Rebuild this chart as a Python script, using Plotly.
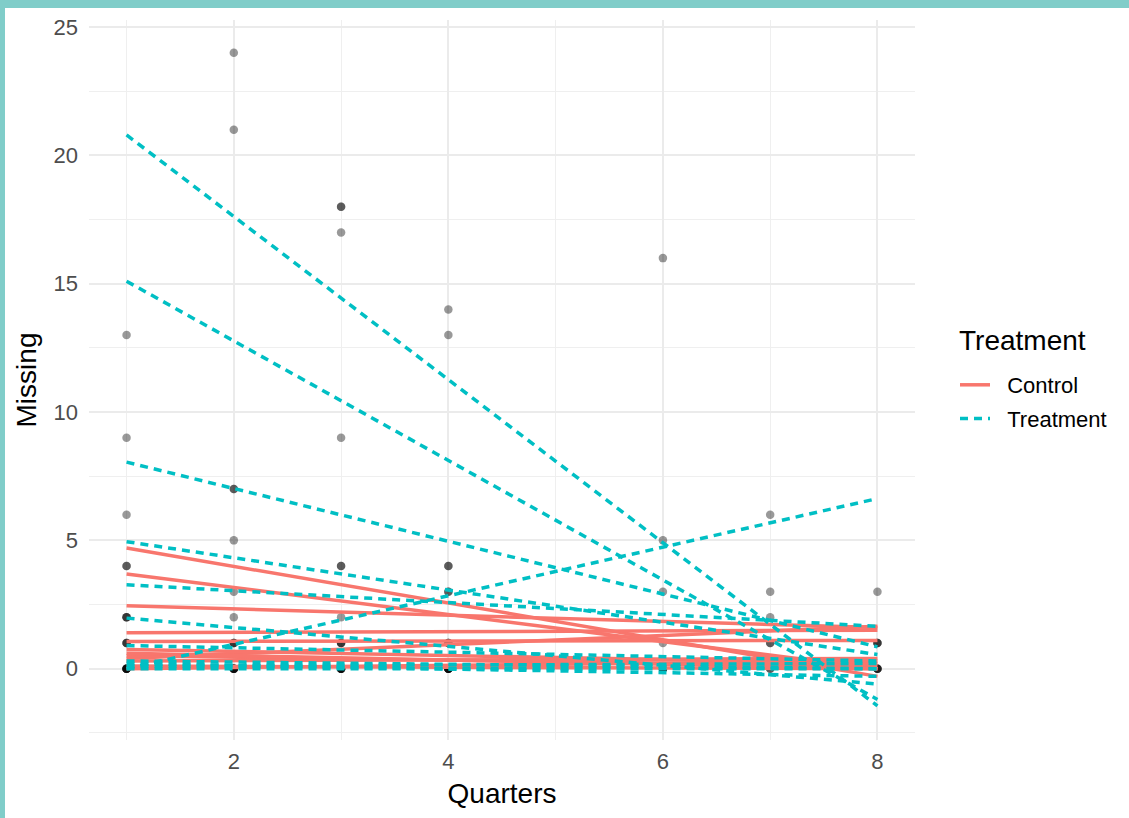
import plotly.graph_objects as go

# ---- data ----
quarter_first = 1
quarter_last = 8

# fitted lines per subject: value at quarter 1 and at quarter 8
control_start = [4.70, 3.69, 2.45, 1.40, 1.06, 0.40, 0.75, 0.50, 0.30, 0.10, 0.00, 0.60]
control_end = [-0.30, 0.00, 1.60, 1.50, 1.10, 1.65, 0.20, 0.10, 0.40, 0.00, 0.30, 0.00]

treatment_start = [20.80, 15.10, 8.05, 0.00, 4.95, 3.27, 1.97, 0.90, 0.30, 0.10, 0.00, 0.20]
treatment_end = [-1.45, -1.20, 0.85, 6.63, 0.55, 1.65, -0.60, 0.30, 0.00, 0.20, 0.00, -0.30]

# observed points (quarter, missing)
point_quarter = (
    [1] * 17 + [2] * 16 + [3] * 16 + [4] * 15 + [6] * 8 + [7] * 7 + [8] * 8
)
point_missing = (
    [13, 9, 6, 4, 4, 2, 2, 2, 1, 1, 1, 0, 0, 0, 0, 0, 0]
    + [24, 21, 7, 7, 5, 3, 2, 1, 1, 1, 0, 0, 0, 0, 0, 0]
    + [18, 18, 17, 9, 4, 4, 2, 1, 1, 1, 0, 0, 0, 0, 0, 0]
    + [14, 13, 4, 4, 3, 3, 1, 1, 1, 0, 0, 0, 0, 0, 0]
    + [16, 5, 3, 1, 0, 0, 0, 0]
    + [6, 3, 2, 1, 1, 0, 0]
    + [3, 1, 1, 1, 0, 0, 0, 0]
)

x_ticks = [2, 4, 6, 8]
y_ticks = [0, 5, 10, 15, 20, 25]
legend_title = "Treatment"

RED = "#F8766D"
TEAL = "#00BFC4"
FONT = "Liberation Sans, Arial, sans-serif"
NB = "\u00a0\u00a0"

fig = go.Figure()

fig.add_trace(go.Scatter(
    x=point_quarter, y=point_missing, mode="markers",
    marker=dict(size=8.5, color="rgba(0,0,0,0.4)", line=dict(width=0)),
    showlegend=False, hoverinfo="skip",
))

for i, (s, e) in enumerate(zip(control_start, control_end)):
    fig.add_trace(go.Scatter(
        x=[quarter_first, quarter_last], y=[s, e], mode="lines",
        line=dict(color=RED, width=3.5),
        name=NB + "Control", legendgroup="Control", showlegend=(i == 0),
    ))

for i, (s, e) in enumerate(zip(treatment_start, treatment_end)):
    fig.add_trace(go.Scatter(
        x=[quarter_first, quarter_last], y=[s, e], mode="lines",
        line=dict(color=TEAL, width=3.5, dash="8px,6px"),
        name=NB + "Treatment", legendgroup="Treatment", showlegend=(i == 0),
    ))

L, R, T, B = 89, 214, 20, 78
W, H = 1129, 818
pw, ph = W - L - R, H - T - B

fig.update_layout(
    width=W, height=H,
    margin=dict(l=L, r=R, t=T, b=B, autoexpand=False),
    paper_bgcolor="white", plot_bgcolor="white",
    font=dict(family=FONT, color="#000000"),
    legend=dict(
        font=dict(size=22, color="#000000"),
        x=(955 - L) / pw, y=1 - (364 - T) / ph, xanchor="left", yanchor="top",
        bgcolor="rgba(0,0,0,0)", tracegroupgap=2,
    ),
    xaxis=dict(
        range=[0.65, 8.35], tickvals=x_ticks, showline=False, zeroline=False,
        ticks="", ticklabelstandoff=6,
        tickfont=dict(size=22, color="#4D4D4D"),
        showgrid=True, gridcolor="#EBEBEB", gridwidth=1.8,
        minor=dict(tickvals=[1, 3, 5, 7], showgrid=True, gridcolor="#EFEFEF", gridwidth=1.1),
        title=dict(text="Quarters", font=dict(size=28, color="#000000"), standoff=10),
    ),
    yaxis=dict(
        range=[-2.78, 25.28], tickvals=y_ticks, showline=False, zeroline=False,
        ticks="", ticklabelstandoff=10,
        tickfont=dict(size=22, color="#4D4D4D"),
        showgrid=True, gridcolor="#EBEBEB", gridwidth=1.8,
        minor=dict(tickvals=[-2.5, 2.5, 7.5, 12.5, 17.5, 22.5], showgrid=True,
                   gridcolor="#EFEFEF", gridwidth=1.1),
        title=dict(text="Missing", font=dict(size=28, color="#000000"), standoff=8),
    ),
)

# legend title placed as text
fig.add_annotation(
    text=legend_title, xref="paper", yref="paper",
    x=(957 - L) / pw, y=1 - (340 - T) / ph, xanchor="left", yanchor="middle",
    showarrow=False, font=dict(size=28, color="#000000"),
)

# teal frame bands along the left and top edges of the picture
FRAME = "#80CDC9"
fig.add_shape(type="rect", xref="paper", yref="paper", layer="above",
              x0=-L / pw, x1=(5 - L) / pw, y0=-B / ph, y1=1 + T / ph,
              fillcolor=FRAME, line=dict(width=0))
fig.add_shape(type="rect", xref="paper", yref="paper", layer="above",
              x0=-L / pw, x1=(W - L) / pw, y0=1 + (T - 8) / ph, y1=1 + T / ph,
              fillcolor=FRAME, line=dict(width=0))

fig.write_html(
    "out.html",
    config={"displayModeBar": False},
    post_script="document.body.style.margin='0px';document.body.style.overflow='hidden';",
)
